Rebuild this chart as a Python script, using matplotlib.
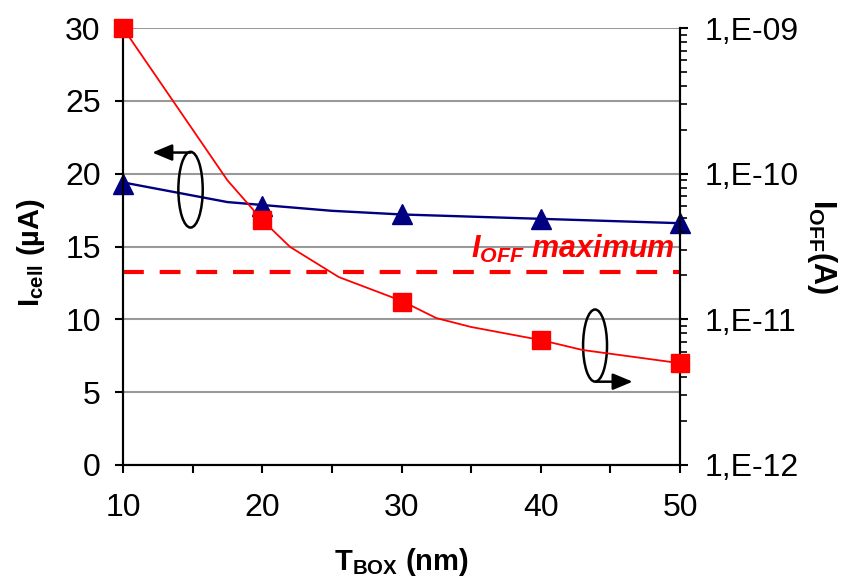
import matplotlib
matplotlib.use("Agg")
import matplotlib.pyplot as plt
from matplotlib.patches import Ellipse
from matplotlib.ticker import FixedLocator, LogLocator, FuncFormatter, NullFormatter

plt.rcParams['font.family'] = ['Liberation Sans', 'DejaVu Sans']
plt.rcParams['mathtext.fontset'] = 'custom'
plt.rcParams['mathtext.rm'] = 'Liberation Sans:bold'
plt.rcParams['mathtext.bf'] = 'Liberation Sans:bold'
plt.rcParams['mathtext.it'] = 'Liberation Sans:bold:italic'

# measured points
tbox = [10, 20, 30, 40, 50]
icell = [19.3, 17.8, 17.2, 16.9, 16.6]          # uA, left axis
ioff = [1.0e-9, 4.8e-11, 1.31e-11, 7.2e-12, 5.0e-12]  # A, right axis

# model curves
icell_fit_x = [10, 17.5, 20, 25, 30, 40, 50]
icell_fit_y = [19.4, 18.05, 17.85, 17.45, 17.2, 16.9, 16.6]
ioff_fit_x = [10, 17.5, 20, 22, 25.5, 30, 32.5, 35, 40, 43, 50]
ioff_fit_y = [1.0e-9, 9.0e-11, 4.8e-11, 3.14e-11, 1.95e-11, 1.34e-11,
              1.02e-11, 8.86e-12, 7.21e-12, 6.16e-12, 5.0e-12]

ioff_max = 13.25  # on the Icell scale
right_ticks = [1e-12, 1e-11, 1e-10, 1e-9]
right_labels = ['1,E-12', '1,E-11', '1,E-10', '1,E-09']

fig = plt.figure(figsize=(8.43, 5.8), dpi=100)
ax = fig.add_axes([123 / 843, 1 - 465 / 580, 557 / 843, 437 / 580])
ax2 = ax.twinx()

ax.set_xlim(10, 50)
ax.set_ylim(0, 30)
ax.set_yticks([0, 5, 10, 15, 20, 25, 30])
ax.set_xticks([10, 20, 30, 40, 50])
ax.xaxis.set_minor_locator(FixedLocator([15, 25, 35, 45]))
ax.grid(axis='y', color='#999999', lw=1.5, zorder=0)
ax.set_axisbelow(True)

ax2.set_yscale('log')
ax2.set_ylim(1e-12, 1e-9)
ax2.yaxis.set_major_locator(FixedLocator(right_ticks))
ax2.yaxis.set_major_formatter(FuncFormatter(lambda v, p: right_labels[right_ticks.index(min(right_ticks, key=lambda t: abs(t - v)))]))
ax2.yaxis.set_minor_locator(LogLocator(base=10, subs=range(2, 10)))
ax2.yaxis.set_minor_formatter(NullFormatter())

for a in (ax, ax2):
    for s in a.spines.values():
        s.set_linewidth(1.5)
        s.set_color('black')
    a.spines['top'].set_visible(False)

ax.tick_params(axis='both', which='both', direction='out', length=6, width=1.5,
               labelsize=23, colors='black')
ax.tick_params(axis='y', pad=10)
ax.tick_params(axis='x', pad=14)
ax2.tick_params(axis='y', which='major', direction='out', length=6, width=1.5,
                labelsize=23, pad=12)
ax2.tick_params(axis='y', which='minor', direction='out', length=5, width=1.2)

# curves
ax.plot(icell_fit_x, icell_fit_y, color='#000080', lw=1.7, zorder=3)
ax.plot(tbox, icell, ls='none', marker='^', ms=14, color='#000080', zorder=4, clip_on=False)
ax.axhline(ioff_max, color='red', lw=3, dashes=(5, 3.8), zorder=3)
ax.text(49.6, 14.2, r'$I_{OFF}$ maximum', color='red', fontsize=22,
        fontweight='bold', fontstyle='italic', ha='right', va='baseline')

ax2.plot(ioff_fit_x, ioff_fit_y, color='red', lw=1.3, zorder=3)
ax2.plot(tbox, ioff, ls='none', marker='s', ms=13, color='red', zorder=4, clip_on=False)

# ellipses with arrows
arrow = dict(arrowstyle='-|>,head_length=1.2,head_width=0.5', lw=1.8, color='black',
             shrinkA=0, shrinkB=0)
ax.add_patch(Ellipse((14.85, 18.9), 1.75, 5.2, fill=False, lw=1.8, ec='black', zorder=5))
ax.annotate('', xy=(12.1, 21.45), xytext=(14.85, 21.45), arrowprops=arrow)
ax.add_patch(Ellipse((43.9, 8.2), 1.72, 4.95, fill=False, lw=1.8, ec='black', zorder=5))
ax.annotate('', xy=(46.6, 5.72), xytext=(43.95, 5.72), arrowprops=arrow)

ax.set_ylabel(r'$\mathrm{I_{cell}}$ (µA)', fontsize=21, fontweight='bold', va='center')
ax.yaxis.set_label_coords(-0.165, 0.487)
ax.set_xlabel(r'$\mathrm{T_{BOX}}$ (nm)', fontsize=21, fontweight='bold', va='center')
ax.xaxis.set_label_coords(0.5, -0.222)
ax2.set_ylabel(r'$\mathrm{I_{OFF}}$(A)', fontsize=22, fontweight='bold', rotation=270, va='center')
ax2.yaxis.set_label_coords(1.255, 0.5)

fig.savefig('out.png', dpi=100)
